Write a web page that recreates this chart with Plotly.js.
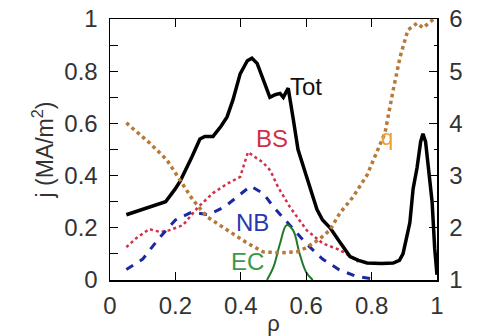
<!DOCTYPE html>
<html><head><meta charset="utf-8">
<script src="https://cdn.plot.ly/plotly-3.0.1.min.js"></script>
<style>html,body{margin:0;padding:0;background:#fff}#c{width:479px;height:336px}</style>
</head><body><div id="c"></div>
<script>
// Total current density
const totRho = [0.05,0.10,0.15,0.17,0.20,0.215,0.25,0.275,0.29,0.315,0.34,0.358,0.376,0.398,0.42,0.434,0.45,0.47,0.489,0.505,0.52,0.53,0.545,0.56,0.575,0.60,0.633,0.65,0.673,0.70,0.734,0.76,0.786,0.83,0.866,0.885,0.896,0.91,0.917,0.927,0.939,0.95,0.957,0.965,0.975,0.985,0.993,1.0];
const totJ   = [0.25,0.27,0.29,0.30,0.35,0.38,0.47,0.54,0.55,0.55,0.59,0.625,0.69,0.79,0.84,0.85,0.83,0.76,0.70,0.71,0.715,0.70,0.735,0.62,0.50,0.40,0.27,0.23,0.20,0.15,0.09,0.075,0.065,0.063,0.065,0.075,0.10,0.18,0.22,0.35,0.43,0.53,0.56,0.53,0.42,0.30,0.12,0.02];
// Bootstrap current
const bsRho = [0.05,0.08,0.12,0.153,0.18,0.223,0.27,0.315,0.36,0.398,0.422,0.445,0.468,0.49,0.514,0.55,0.602,0.651,0.703,0.743,0.76];
const bsJ   = [0.126,0.16,0.195,0.184,0.19,0.21,0.28,0.333,0.37,0.395,0.49,0.47,0.45,0.42,0.356,0.28,0.19,0.14,0.115,0.084,0.07];
// Neutral beam current
const nbRho = [0.05,0.10,0.15,0.20,0.25,0.30,0.35,0.40,0.43,0.47,0.50,0.55,0.60,0.65,0.70,0.75,0.80];
const nbJ   = [0.04,0.08,0.16,0.23,0.26,0.25,0.28,0.33,0.36,0.33,0.28,0.21,0.14,0.08,0.04,0.015,0.005];
// EC current
const ecRho = [0.48,0.50,0.52,0.54,0.56,0.58,0.60,0.62];
const ecJ   = [0.0,0.05,0.14,0.21,0.19,0.10,0.03,0.0];
// Safety factor q (right axis)
const qRho = [0.05,0.122,0.174,0.214,0.254,0.297,0.358,0.419,0.468,0.52,0.572,0.60,0.64,0.673,0.703,0.743,0.786,0.841,0.866,0.887,0.911,0.939,0.957,0.979,0.99];
const qVal = [4.01,3.62,3.30,2.92,2.53,2.21,1.96,1.71,1.54,1.52,1.54,1.62,1.78,1.96,2.28,2.59,3.01,3.82,4.64,5.27,5.79,5.92,5.83,5.94,6.0];

const xTicks = [0,0.2,0.4,0.6,0.8,1];
const xTickText = ['0','0.2','0.4','0.6','0.8','1'];
const yTicks = [0,0.2,0.4,0.6,0.8,1];
const yTickText = ['0','0.2','0.4','0.6','0.8','1'];
const y2Ticks = [1,2,3,4,5,6];

const traces = [
  {x:qRho,y:qVal,yaxis:'y2',mode:'lines',line:{color:'#b87838',width:3.5,dash:'dot'},hoverinfo:'skip'},
  {x:bsRho,y:bsJ,mode:'lines',line:{color:'#d03048',width:2.5,dash:'dot'},hoverinfo:'skip'},
  {x:nbRho,y:nbJ,mode:'lines',line:{color:'#1c28a0',width:3,dash:'8px,8px'},hoverinfo:'skip'},
  {x:ecRho,y:ecJ,mode:'lines',line:{color:'#1f7a2a',width:2,shape:'spline'},hoverinfo:'skip'},
  {x:totRho,y:totJ,mode:'lines',line:{color:'#000',width:3.5},hoverinfo:'skip'}
];
const F = 'Liberation Sans, Arial, sans-serif';
const layout = {
  width:479,height:336,
  margin:{l:110,r:42,t:19,b:56},
  showlegend:false,
  paper_bgcolor:'#fff',plot_bgcolor:'#fff',
  font:{family:F,size:24,color:'#333'},
  xaxis:{range:[0,1],tickvals:xTicks,ticktext:xTickText,ticks:'inside',ticklen:8,tickcolor:'#000',
    showline:true,linecolor:'#000',linewidth:1.5,mirror:'ticks',showgrid:false,zeroline:false,
    ticklabelstandoff:4,tickfont:{size:24},
    title:{text:'ρ',font:{size:22},standoff:0}},
  yaxis:{range:[0,1],tickvals:yTicks,ticktext:yTickText,ticks:'inside',ticklen:8,tickcolor:'#000',
    minor:{dtick:0.1,ticks:'inside',ticklen:8,tickcolor:'#000',showgrid:false},
    showline:true,linecolor:'#000',linewidth:1.5,showgrid:false,zeroline:false,
    ticklabelstandoff:6,tickfont:{size:24},
    title:{text:'j (MA/m<sup>2</sup>)',font:{size:23},standoff:4}},
  yaxis2:{range:[1,6],tickvals:y2Ticks,overlaying:'y',side:'right',ticks:'inside',ticklen:8,tickcolor:'#000',
    minor:{dtick:0.5,ticks:'inside',ticklen:3,tickcolor:'#000',showgrid:false},
    showline:true,linecolor:'#000',linewidth:1.5,showgrid:false,zeroline:false,
    ticklabelstandoff:6,tickfont:{size:24}},
  annotations:[
    {x:0.545,y:0.735,xref:'x',yref:'y',text:'Tot',showarrow:false,xanchor:'left',yanchor:'middle',xshift:0,yshift:2,font:{size:24,color:'#111'}},
    {x:0.44,y:0.49,xref:'x',yref:'y',text:'BS',showarrow:false,xanchor:'left',yanchor:'bottom',yshift:-2,font:{size:24,color:'#d03048'}},
    {x:0.38,y:0.22,xref:'x',yref:'y',text:'NB',showarrow:false,xanchor:'left',yanchor:'middle',font:{size:24,color:'#2838b0'}},
    {x:0.365,y:0.07,xref:'x',yref:'y',text:'EC',showarrow:false,xanchor:'left',yanchor:'middle',font:{size:24,color:'#3a9a48'}},
    {x:0.822,y:0.545,xref:'x',yref:'y',text:'q',showarrow:false,xanchor:'left',yanchor:'middle',font:{size:22,color:'#e8a030'}},
    {x:(474-110)/327,y:0.5,xref:'paper',yref:'paper',text:'q',textangle:-90,showarrow:false,xanchor:'left',yanchor:'middle',font:{size:20,color:'#333'}}
  ]
};
Plotly.newPlot('c',traces,layout,{staticPlot:true});
</script></body></html>
